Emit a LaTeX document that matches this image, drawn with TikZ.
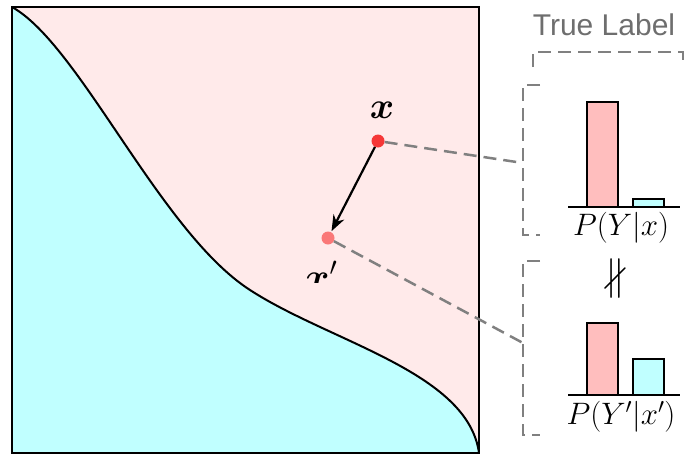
\RequirePackage{fix-cm}
\documentclass[tikz,border=0pt]{standalone}
\usepackage{fontspec}
\usepackage{amssymb}
\usepackage{bm}
\usetikzlibrary{arrows.meta}
\newfontfamily\labelfont{Liberation Sans}
\definecolor{regpink}{RGB}{255,234,234}
\definecolor{regcyan}{RGB}{192,255,255}
\definecolor{barpink}{RGB}{255,190,190}
\definecolor{barcyan}{RGB}{192,255,255}
\definecolor{ptred}{RGB}{245,55,55}
\definecolor{ptlight}{RGB}{250,120,120}
\definecolor{dashgray}{RGB}{128,128,128}
\definecolor{textgray}{RGB}{110,110,110}
\begin{document}
\begin{tikzpicture}[x=1pt,y=-1pt,
  dot/.style={circle,inner sep=0pt,minimum size=13pt},
  dashline/.style={dashgray,line width=2.5pt,dash pattern=on 13pt off 7pt},
  thickline/.style={black,line width=2pt},
  bar/.style={thickline},
  mathlabel/.style={font=\fontsize{37}{44}\selectfont,inner sep=0pt},
  axislabel/.style={font=\fontsize{31}{36}\selectfont,inner sep=0pt}]
\useasboundingbox (0,0) rectangle (685,455);
% regions
\fill[regpink] (12,7) rectangle (479,453);
\fill[regcyan] (12,7) .. controls (80,45) and (160,232) .. (250,290)
  .. controls (330,342) and (468,372) .. (479,453) -- (12,453) -- cycle;
\draw[thickline] (12,7) .. controls (80,45) and (160,232) .. (250,290)
  .. controls (330,342) and (468,372) .. (479,453);
\draw[thickline] (12,7) rectangle (479,453);
% points
\node[dot,fill=ptred] (x) at (378,141) {};
\node[dot,fill=ptlight] (xp) at (328,238) {};
\node[mathlabel] (xl) at (382,110) {$\bm{x}$};
\begin{scope}
\clip (290,240) rectangle (370,282);
\node[mathlabel,anchor=base west] (xpl) at (305,289) {$\bm{x}'$};
\end{scope}
\draw[-{Stealth[length=16pt,width=12pt]},line width=2.2pt,shorten >=1pt] (x) -- (xp);
% brackets
\coordinate (b1) at (523,163);
\coordinate (b2) at (523,343);
\draw[dashline] (x) -- (b1);
\draw[dashline] (xp) -- (b2);
\draw[dashline] (533,67) -- (533,52) -- (683,52) -- (683,67);
\draw[dashline] (540,85) -- (523,85) -- (523,235) -- (540,235);
\draw[dashline] (540,261) -- (523,261) -- (523,435) -- (540,435);
\node[textgray,font=\labelfont\fontsize{30}{35}\selectfont,anchor=base] (tl) at (604,35) {True Label};
% top chart
\draw[bar,fill=barpink] (587,207) rectangle (618,102);
\draw[bar,fill=barcyan] (633,207) rectangle (664,199);
\draw[thickline] (568,207) -- (680,207);
\node[axislabel,anchor=north] (l1) at (621,212) {$P(Y|x)$};
% neq
\node[inner sep=0pt] (ne) at (615,279) {\scalebox{1.6}{\fontsize{24.88}{30}\selectfont$\nparallel$}};
% bottom chart
\draw[bar,fill=barpink] (587,395) rectangle (618,323);
\draw[bar,fill=barcyan] (633,395) rectangle (664,359);
\draw[thickline] (568,395) -- (680,395);
\node[axislabel,anchor=north] (l2) at (621,401) {$P(Y'|x')$};
\end{tikzpicture}
\end{document}
